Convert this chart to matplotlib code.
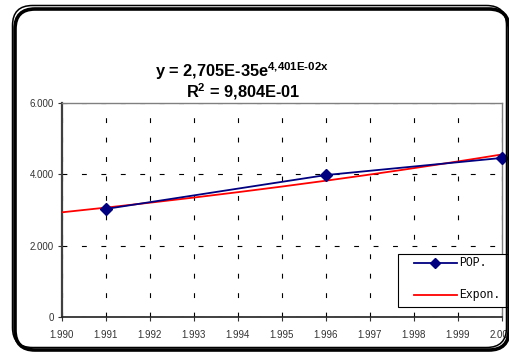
import numpy as np
import matplotlib.pyplot as plt
from matplotlib.patches import FancyBboxPatch, Rectangle
from matplotlib.lines import Line2D
from matplotlib.ticker import FuncFormatter

# Population observations
years = [1991, 1996, 2000]
pop = [3030, 3980, 4460]

# Exponential trend coefficients (y = a * e^(b x))
coef_a = 2.705e-35
coef_b = 4.401e-02
r2 = 9.804e-01

x_ticks = list(range(1990, 2001))
y_ticks = [0, 2000, 4000, 6000]
legend_labels = ['POP.', 'Expon.']

navy = '#000080'
red = '#ff0000'

plt.rcParams['mathtext.fontset'] = 'custom'
plt.rcParams['mathtext.bf'] = 'Liberation Sans:bold'
plt.rcParams['mathtext.rm'] = 'Liberation Sans:bold'
plt.rcParams['lines.scale_dashes'] = False

W, H = 510, 353
fig = plt.figure(figsize=(W / 100, H / 100), dpi=100)
fig.patch.set_facecolor('white')

# main plot
ax = fig.add_axes([62 / W, 36 / H, 440 / W, 214 / H], zorder=1)
ax.set_facecolor('white')

xt = np.linspace(1990, 2000, 200)
trend = coef_a * np.exp(coef_b * xt)

ax.plot(xt, trend, color=red, lw=1.3, zorder=3)
ax.plot(years, pop, color=navy, lw=1.3, marker='D', ms=6.5,
        mfc=navy, mec=navy, zorder=4, clip_on=False)

ax.set_xlim(1990, 2000)
ax.set_ylim(0, 6000)
ax.set_xticks(x_ticks)
ax.set_yticks(y_ticks)

fmt = FuncFormatter(lambda v, p: f'{int(v):,}'.replace(',', '.'))
ax.xaxis.set_major_formatter(fmt)
ax.yaxis.set_major_formatter(fmt)
ax.tick_params(axis='both', labelsize=7, colors='#333333', length=3, width=0.8,
               direction='out')
ax.tick_params(axis='x', pad=6)
ax.tick_params(axis='y', pad=3)
for lab in ax.get_xticklabels() + ax.get_yticklabels():
    lab.set_family('Liberation Sans')

ax.grid(True, color='black', ls=(0, (3.5, 10.5)), lw=0.8)

ax.spines['left'].set_color('#404040')
ax.spines['left'].set_linewidth(1.6)
ax.spines['bottom'].set_color('#202020')
ax.spines['bottom'].set_linewidth(1.2)
for side in ['top', 'right']:
    ax.spines[side].set_color('#808080')
    ax.spines[side].set_linewidth(1.0)

# foreground layer in pixel coordinates: legend box and rounded border
fg = fig.add_axes([0, 0, 1, 1], zorder=2)
fg.set_xlim(0, W)
fg.set_ylim(H, 0)
fg.axis('off')
fg.patch.set_visible(False)

fg.add_patch(Rectangle((398, 254), 120, 53, fc='white', ec='black', lw=0.8))
fg.add_line(Line2D([414, 435.5, 457], [263, 263, 263], lw=1.3, color=navy,
                   marker='D', ms=5, mfc=navy, mec=navy, markevery=[1]))
fg.add_line(Line2D([414, 457], [295, 295], lw=1.3, color=red))
for lab, yy in zip(legend_labels, [263, 295]):
    fg.text(459, yy, lab, ha='left', va='center', fontsize=8.3,
            family='Liberation Mono', color='black')

shadow = FancyBboxPatch((15, 9), 494, 341, boxstyle='round,pad=0,rounding_size=20',
                        fc='none', ec='black', lw=2.6)
border = FancyBboxPatch((12.5, 5.5), 494, 342, boxstyle='round,pad=0,rounding_size=20',
                        fc='none', ec='black', lw=1.1)
fg.add_patch(shadow)
fg.add_patch(border)

fig.text(242 / W, 1 - 77 / H, r'y = 2,705E-35e$^{\mathbf{4{,}401E\text{-}02x}}$',
         ha='center', va='baseline', fontsize=11.8, fontweight='bold', family='Liberation Sans')
fig.text(243 / W, 1 - 97 / H, 'R$^{\\mathbf{2}}$ = 9,804E-01',
         ha='center', va='baseline', fontsize=11.8, fontweight='bold', family='Liberation Sans')

fig.savefig('out.png', dpi=100, facecolor='white')
